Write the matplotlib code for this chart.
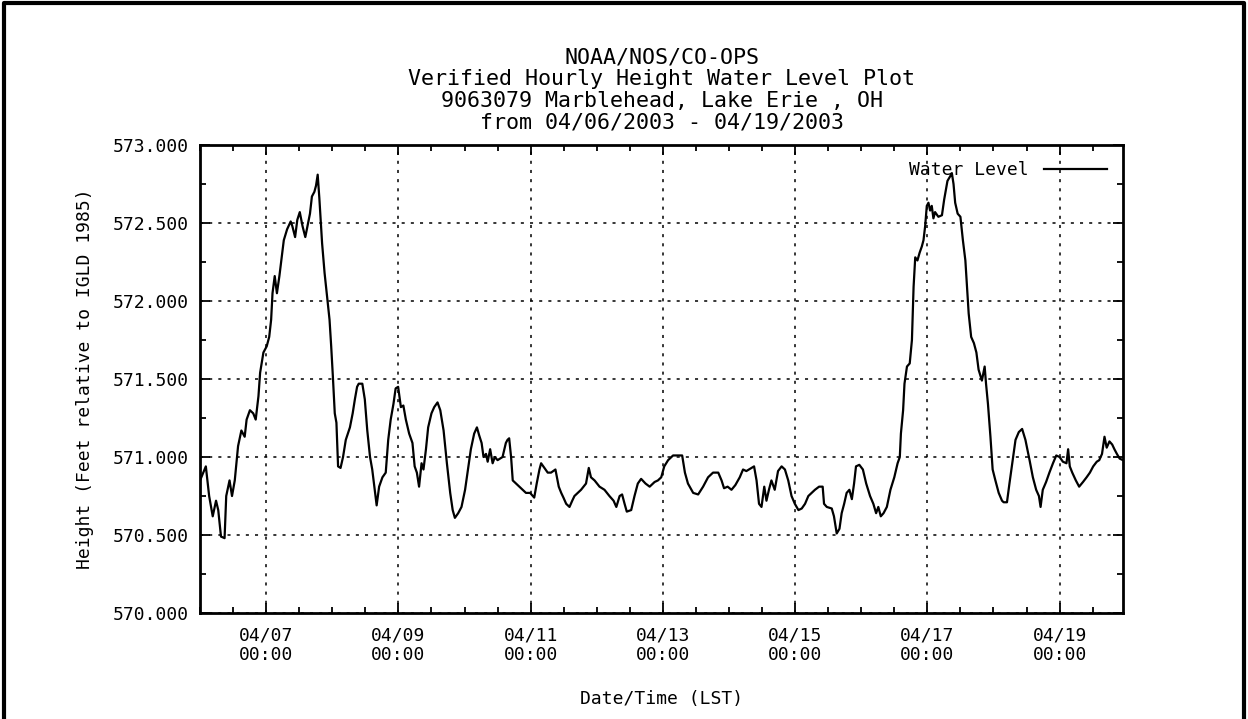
import numpy as np
import pandas as pd
import matplotlib
matplotlib.use('Agg')
from matplotlib import pyplot as plt
import matplotlib.dates as mdates
from matplotlib.lines import Line2D

# Hours since 04/06/2003 00:00 LST
hours = [0.0, 2.1, 3.3, 4.6, 5.8, 6.6, 7.6, 8.9, 9.5, 10.7, 11.6, 12.6, 13.8, 15.0, 16.2, 16.9,
         18.1, 19.3, 20.2, 21.2, 21.8, 23.0, 24.2, 25.1, 25.8, 26.3, 27.1, 27.9, 28.8, 29.5, 30.4,
         31.6, 32.9, 33.5, 34.5, 35.3, 36.2, 37.2, 38.2, 39.0, 39.9, 40.6, 41.5, 42.1, 42.7, 43.3,
         44.3, 45.2, 46.2, 47.0, 47.6, 48.2, 48.9, 49.5, 50.1, 51.0, 51.9, 52.9, 54.4, 55.4, 56.2,
         57.0, 57.6, 58.9, 59.8, 60.7, 61.7, 62.5, 63.4, 64.1, 65.0, 66.2, 67.4, 68.3, 69.2, 70.2,
         71.0, 71.9, 72.9, 73.8, 74.7, 75.9, 77.1, 77.9, 78.7, 79.5, 80.4, 81.1, 82.0, 82.8, 84.0,
         85.0, 86.2, 87.2, 88.4, 89.6, 90.8, 91.7, 92.5, 93.7, 94.9, 96.2, 97.1, 98.3, 99.5, 100.5,
         101.3, 102.2, 102.9, 103.8, 104.4, 105.3, 106.2, 107.0, 108.0, 109.8, 111.0, 111.6, 112.2,
         112.9, 113.5, 114.7, 116.5, 118.3, 119.8, 121.3, 122.2, 123.2, 123.8, 125.0, 126.2, 127.4,
         129.0, 130.2, 131.1, 131.9, 132.9, 134.1, 135.1, 135.9, 137.1, 138.3, 140.1, 141.1, 141.9,
         143.2, 145.0, 146.8, 148.6, 150.1, 151.1, 152.3, 153.2, 154.1, 154.9, 156.5, 157.7, 158.9,
         160.1, 161.7, 163.2, 165.0, 166.2, 167.4, 168.5, 169.9, 171.7, 175.0, 176.0, 177.1, 179.0,
         180.8, 182.6, 184.4, 186.2, 188.1, 189.3, 190.2, 191.5, 192.9, 194.3, 195.9, 197.1, 198.3,
         200.2, 201.1, 202.0, 202.9, 203.8, 204.8, 205.6, 206.5, 207.4, 208.6, 209.8, 211.1, 212.3,
         213.5, 214.7, 215.9, 217.2, 218.4, 219.6, 220.8, 222.0, 223.2, 224.7, 226.0, 226.5, 227.5,
         229.3, 230.1, 231.1, 232.1, 232.9, 233.8, 234.7, 235.7, 236.6, 237.4, 238.1, 239.3, 240.6,
         241.8, 243.2, 244.4, 245.4, 246.2, 247.1, 248.1, 249.3, 250.6, 252.0, 253.2, 254.0, 254.4,
         255.2, 255.7, 256.6, 257.6, 258.4, 259.0, 259.6, 260.4, 261.2, 262.0, 262.6, 263.2, 263.8,
         264.4, 265.0, 265.6, 266.2, 266.8, 268.0, 269.3, 270.1, 271.3, 272.3, 272.9, 273.5, 274.1,
         275.0, 276.0, 276.9, 277.8, 278.4, 279.0, 279.9, 280.9, 281.8, 282.6, 283.8, 284.8, 285.3,
         286.0, 286.9, 287.7, 288.7, 289.9, 291.1, 291.7, 292.9, 293.8, 295.0, 296.0, 297.2, 298.4,
         299.6, 301.1, 302.3, 303.5, 304.5, 305.1, 305.9, 307.1, 308.3, 309.6, 310.8, 312.0, 313.2,
         314.5, 315.1, 315.7, 316.6, 317.9, 319.1, 320.5, 321.8, 323.0, 324.2, 325.5, 326.4, 327.4,
         328.3, 329.1, 330.1, 331.1, 331.9, 332.8, 333.8, 335.0]

# Water level (feet relative to IGLD 1985)
level = [570.85, 570.94, 570.75, 570.62, 570.72, 570.66, 570.49, 570.48, 570.75, 570.85, 570.75,
         570.85, 571.07, 571.17, 571.13, 571.24, 571.30, 571.28, 571.24, 571.39, 571.54, 571.67,
         571.71, 571.77, 571.88, 572.05, 572.16, 572.05, 572.16, 572.26, 572.39, 572.46, 572.51,
         572.48, 572.41, 572.52, 572.57, 572.48, 572.41, 572.48, 572.56, 572.67, 572.70, 572.74,
         572.81, 572.66, 572.37, 572.18, 572.01, 571.88, 571.71, 571.52, 571.28, 571.22, 570.94,
         570.93, 571.00, 571.11, 571.19, 571.28, 571.37, 571.45, 571.47, 571.47, 571.37, 571.17,
         571.00, 570.92, 570.79, 570.69, 570.81, 570.87, 570.90, 571.11, 571.24, 571.34, 571.44,
         571.45, 571.32, 571.33, 571.24, 571.15, 571.09, 570.94, 570.90, 570.81, 570.96, 570.92,
         571.05, 571.19, 571.28, 571.32, 571.35, 571.30, 571.17, 570.96, 570.77, 570.66, 570.61,
         570.64, 570.68, 570.79, 570.90, 571.05, 571.15, 571.19, 571.14, 571.09, 571.00, 571.02,
         570.97, 571.05, 570.96, 571.00, 570.98, 571.00, 571.09, 571.11, 571.12, 571.00, 570.85,
         570.83, 570.80, 570.77, 570.77, 570.74, 570.83, 570.92, 570.96, 570.93, 570.90, 570.90,
         570.92, 570.81, 570.77, 570.74, 570.70, 570.68, 570.72, 570.75, 570.77, 570.79, 570.83,
         570.93, 570.87, 570.85, 570.81, 570.79, 570.75, 570.72, 570.68, 570.75, 570.76, 570.70,
         570.65, 570.66, 570.75, 570.83, 570.86, 570.83, 570.81, 570.84, 570.85, 570.87, 570.94,
         570.98, 571.01, 571.01, 570.90, 570.83, 570.77, 570.76, 570.81, 570.87, 570.90, 570.90,
         570.85, 570.80, 570.81, 570.79, 570.82, 570.87, 570.92, 570.91, 570.93, 570.94, 570.85,
         570.70, 570.68, 570.81, 570.72, 570.79, 570.85, 570.79, 570.91, 570.94, 570.92, 570.85,
         570.75, 570.70, 570.66, 570.67, 570.70, 570.75, 570.77, 570.79, 570.81, 570.81, 570.70,
         570.68, 570.67, 570.62, 570.51, 570.54, 570.64, 570.70, 570.77, 570.79, 570.73, 570.83,
         570.94, 570.95, 570.92, 570.83, 570.75, 570.70, 570.64, 570.68, 570.62, 570.64, 570.68,
         570.79, 570.87, 570.96, 571.00, 571.15, 571.30, 571.47, 571.58, 571.60, 571.75, 572.09,
         572.28, 572.26, 572.31, 572.35, 572.39, 572.48, 572.61, 572.63, 572.58, 572.61, 572.53,
         572.57, 572.54, 572.55, 572.65, 572.77, 572.80, 572.82, 572.75, 572.63, 572.56, 572.54,
         572.39, 572.26, 572.09, 571.92, 571.77, 571.73, 571.67, 571.56, 571.49, 571.58, 571.47,
         571.34, 571.13, 570.92, 570.85, 570.77, 570.72, 570.71, 570.71, 570.83, 570.98, 571.11,
         571.16, 571.18, 571.11, 570.98, 570.87, 570.79, 570.75, 570.68, 570.79, 570.84, 570.90,
         570.96, 571.01, 571.00, 570.97, 570.96, 571.05, 570.94, 570.90, 570.85, 570.81, 570.84,
         570.87, 570.90, 570.94, 570.97, 570.98, 571.02, 571.13, 571.06, 571.10, 571.08, 571.05,
         571.02, 570.99, 570.98]

title_lines = ['NOAA/NOS/CO-OPS',
               'Verified Hourly Height Water Level Plot',
               '9063079 Marblehead, Lake Erie , OH',
               'from 04/06/2003 - 04/19/2003']
y_ticks = [570.0, 570.5, 571.0, 571.5, 572.0, 572.5, 573.0]

start = pd.Timestamp('2003-04-06 00:00')
end = pd.Timestamp('2003-04-19 23:00')
times = start + pd.to_timedelta(hours, unit='h')

plt.rcParams['font.family'] = ['DejaVu Sans Mono']
plt.rcParams['font.size'] = 13

fig = plt.figure(figsize=(12.48, 7.19), dpi=100)
ax = fig.add_axes([0.1603, 0.1474, 0.7395, 0.6509])

# Water level trace
ax.plot(times, level, color='black', linewidth=1.6, label='Water Level')

# Axes limits and ticks
ax.set_xlim(start, end)
ax.set_ylim(y_ticks[0], y_ticks[-1])
ax.set_yticks(y_ticks)
ax.yaxis.set_major_formatter(plt.FormatStrFormatter('%.3f'))
ax.yaxis.set_minor_locator(plt.MultipleLocator(0.25))
ax.xaxis.set_major_locator(mdates.DayLocator(bymonthday=[7, 9, 11, 13, 15, 17, 19]))
ax.xaxis.set_minor_locator(mdates.HourLocator(byhour=[0, 12]))
ax.xaxis.set_major_formatter(mdates.DateFormatter('%m/%d\n%H:%M'))
ax.tick_params(which='both', direction='in', top=True, right=True, color='black', width=1.3)
ax.tick_params(which='major', length=7)
ax.tick_params(axis='x', which='major', pad=10)
ax.tick_params(axis='y', which='major', pad=8)
ax.tick_params(which='minor', length=4)
for lbl in ax.get_xticklabels():
    lbl.set_linespacing(1.05)

# Dotted grid at major ticks
ax.grid(True, which='major', color='black', linestyle=(0, (2, 4)), linewidth=1.1)

for side in ax.spines.values():
    side.set_linewidth(2)

ax.set_xlabel('Date/Time (LST)')
ax.xaxis.set_label_coords(0.5, -0.165)
ax.set_ylabel('Height (Feet relative to IGLD 1985)')
ax.yaxis.set_label_coords(-0.115, 0.5)

ax.set_title('\n'.join(title_lines), linespacing=1.1, pad=12)

# Key: text first, line sample after it
ax.legend(loc='upper right', frameon=False, markerfirst=False, handlelength=3.5,
          handletextpad=0.8, borderaxespad=0.5, borderpad=0.4)

# Black frame round the page (no bottom edge)
frame_x = [0.003, 0.003, 0.997, 0.997]
frame_y = [0.0, 0.996, 0.996, 0.0]
fig.add_artist(Line2D(frame_x, frame_y, transform=fig.transFigure, color='black', linewidth=3))

fig.savefig('out.png', dpi=100, facecolor='white')
